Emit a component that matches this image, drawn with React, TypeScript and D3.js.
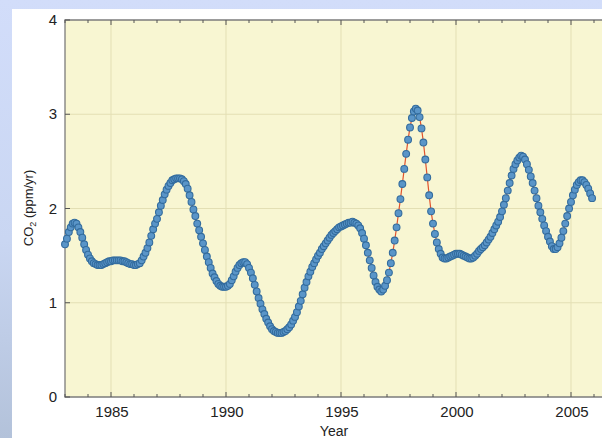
import React, { useEffect, useRef } from "react";
import * as d3 from "d3";

// monthly CO2 growth rate (ppm/yr), one row per year, starting Jan 1983
const startYear = 1983;
const growthRate: number[] = [
  1.62, 1.68, 1.75, 1.8, 1.84, 1.85, 1.84, 1.8, 1.75, 1.69, 1.62, 1.56, // 1983
  1.51, 1.47, 1.44, 1.42, 1.41, 1.4, 1.4, 1.4, 1.41, 1.42, 1.43, 1.44, // 1984
  1.44, 1.45, 1.45, 1.45, 1.45, 1.45, 1.44, 1.44, 1.43, 1.42, 1.41, 1.41, // 1985
  1.4, 1.4, 1.41, 1.42, 1.45, 1.49, 1.53, 1.58, 1.64, 1.71, 1.78, 1.84, // 1986
  1.89, 1.96, 2.03, 2.09, 2.15, 2.2, 2.24, 2.27, 2.3, 2.31, 2.32, 2.32, // 1987
  2.32, 2.31, 2.29, 2.26, 2.21, 2.14, 2.07, 1.99, 1.92, 1.84, 1.77, 1.7, // 1988
  1.63, 1.56, 1.49, 1.43, 1.37, 1.31, 1.27, 1.23, 1.2, 1.18, 1.17, 1.17, // 1989
  1.17, 1.18, 1.2, 1.24, 1.28, 1.33, 1.37, 1.4, 1.42, 1.43, 1.43, 1.41, // 1990
  1.37, 1.32, 1.26, 1.19, 1.12, 1.05, 0.99, 0.93, 0.88, 0.83, 0.79, 0.75, // 1991
  0.72, 0.7, 0.69, 0.68, 0.68, 0.68, 0.69, 0.7, 0.72, 0.74, 0.77, 0.81, // 1992
  0.85, 0.9, 0.96, 1.02, 1.09, 1.16, 1.22, 1.28, 1.33, 1.38, 1.42, 1.46, // 1993
  1.5, 1.53, 1.57, 1.6, 1.63, 1.66, 1.69, 1.72, 1.74, 1.76, 1.78, 1.8, // 1994
  1.81, 1.82, 1.83, 1.84, 1.85, 1.85, 1.86, 1.85, 1.84, 1.82, 1.79, 1.74, // 1995
  1.68, 1.61, 1.53, 1.45, 1.37, 1.29, 1.22, 1.17, 1.14, 1.12, 1.14, 1.18, // 1996
  1.24, 1.32, 1.42, 1.53, 1.66, 1.8, 1.95, 2.1, 2.26, 2.42, 2.58, 2.73, // 1997
  2.86, 2.96, 3.03, 3.06, 3.04, 2.97, 2.85, 2.7, 2.52, 2.33, 2.14, 1.97, // 1998
  1.84, 1.73, 1.64, 1.57, 1.52, 1.48, 1.47, 1.47, 1.48, 1.49, 1.5, 1.51, // 1999
  1.52, 1.52, 1.52, 1.51, 1.5, 1.49, 1.48, 1.47, 1.47, 1.48, 1.5, 1.52, // 2000
  1.55, 1.57, 1.59, 1.61, 1.64, 1.67, 1.7, 1.74, 1.78, 1.82, 1.86, 1.91, // 2001
  1.97, 2.04, 2.11, 2.19, 2.27, 2.35, 2.42, 2.47, 2.51, 2.54, 2.56, 2.55, // 2002
  2.52, 2.47, 2.41, 2.34, 2.27, 2.19, 2.11, 2.03, 1.96, 1.89, 1.82, 1.76, // 2003
  1.7, 1.65, 1.6, 1.57, 1.57, 1.59, 1.63, 1.69, 1.76, 1.84, 1.92, 2.0, // 2004
  2.07, 2.14, 2.2, 2.25, 2.28, 2.3, 2.3, 2.28, 2.25, 2.21, 2.16, 2.11, // 2005
];

const majorYears = [1985, 1990, 1995, 2000, 2005];
const minorYears = d3.range(1983, 2007);
const yTicks = [0, 1, 2, 3, 4];

const W = 602;
const H = 438;

const Chart = () => {
  const svgRef = useRef<SVGSVGElement>(null);

  useEffect(() => {
    const svg = d3.select(svgRef.current);
    svg.selectAll("*").remove();

    const left = 65;
    const top = 20;
    const bottom = 397;
    const right = 617;

    const x = d3.scaleLinear().domain([1983, 2007]).range([left, right]);
    const y = d3.scaleLinear().domain([0, 4]).range([bottom, top]);

    const defs = svg.append("defs");
    const grad = defs
      .append("linearGradient")
      .attr("id", "bg")
      .attr("x1", 0)
      .attr("y1", 0)
      .attr("x2", 0)
      .attr("y2", 1);
    grad.append("stop").attr("offset", "0%").attr("stop-color", "#d2ddfa");
    grad.append("stop").attr("offset", "55%").attr("stop-color", "#c9d6f2");
    grad.append("stop").attr("offset", "100%").attr("stop-color", "#b3c2da");

    // page background + white panel
    svg.append("rect").attr("width", W).attr("height", H).attr("fill", "url(#bg)");
    svg
      .append("rect")
      .attr("x", 12)
      .attr("y", 9)
      .attr("width", W - 12)
      .attr("height", H - 9)
      .attr("fill", "#ffffff");

    // plot area
    svg
      .append("rect")
      .attr("x", left)
      .attr("y", top)
      .attr("width", right - left)
      .attr("height", bottom - top)
      .attr("fill", "#f8f6d2");

    // grid
    svg
      .selectAll(".vgrid")
      .data(majorYears)
      .enter()
      .append("line")
      .attr("x1", (d) => x(d))
      .attr("x2", (d) => x(d))
      .attr("y1", top)
      .attr("y2", bottom)
      .attr("stroke", "#e3dfb4")
      .attr("stroke-width", 1);
    svg
      .selectAll(".hgrid")
      .data(yTicks.slice(1, -1))
      .enter()
      .append("line")
      .attr("x1", left)
      .attr("x2", right)
      .attr("y1", (d) => y(d))
      .attr("y2", (d) => y(d))
      .attr("stroke", "#e3dfb4")
      .attr("stroke-width", 1);

    // frame
    const frame = "#7c7c7c";
    svg
      .append("path")
      .attr("d", `M${right},${top}H${left}V${bottom}H${right}`)
      .attr("fill", "none")
      .attr("stroke", frame)
      .attr("stroke-width", 1.3);

    // x ticks (top and bottom, inward)
    minorYears.forEach((yr) => {
      const len = yr % 5 === 0 ? 5 : 3;
      svg
        .append("line")
        .attr("x1", x(yr))
        .attr("x2", x(yr))
        .attr("y1", bottom)
        .attr("y2", bottom - len)
        .attr("stroke", "#555")
        .attr("stroke-width", 1);
      svg
        .append("line")
        .attr("x1", x(yr))
        .attr("x2", x(yr))
        .attr("y1", top)
        .attr("y2", top + len)
        .attr("stroke", "#555")
        .attr("stroke-width", 1);
    });

    // y ticks
    svg
      .selectAll(".ytick")
      .data(yTicks)
      .enter()
      .append("line")
      .attr("x1", left)
      .attr("x2", left + 5)
      .attr("y1", (d) => y(d))
      .attr("y2", (d) => y(d))
      .attr("stroke", "#555")
      .attr("stroke-width", 1);

    const font = "Liberation Sans, Arial, sans-serif";

    svg
      .selectAll(".ylab")
      .data(yTicks)
      .enter()
      .append("text")
      .attr("x", 57)
      .attr("y", (d) => y(d) + 5)
      .attr("text-anchor", "end")
      .attr("font-family", font)
      .attr("font-size", 15)
      .attr("fill", "#222")
      .text((d) => d);

    svg
      .selectAll(".xlab")
      .data(majorYears)
      .enter()
      .append("text")
      .attr("x", (d) => x(d) + 1)
      .attr("y", 417)
      .attr("text-anchor", "middle")
      .attr("font-family", font)
      .attr("font-size", 15)
      .attr("fill", "#222")
      .text((d) => d);

    svg
      .append("text")
      .attr("x", 334)
      .attr("y", 436)
      .attr("text-anchor", "middle")
      .attr("font-family", font)
      .attr("font-size", 14)
      .attr("fill", "#222")
      .text("Year");

    const yTitle = svg
      .append("text")
      .attr("transform", "translate(33,208) rotate(-90)")
      .attr("text-anchor", "middle")
      .attr("font-family", font)
      .attr("font-size", 13)
      .attr("fill", "#222");
    yTitle.append("tspan").text("CO");
    yTitle.append("tspan").attr("dy", 3).attr("font-size", 9).text("2");
    yTitle.append("tspan").attr("dy", -3).text(" (ppm/yr)");

    // series
    const pts = growthRate.map((v, i) => ({ t: startYear + i / 12, v }));
    const line = d3
      .line<{ t: number; v: number }>()
      .x((d) => x(d.t))
      .y((d) => y(d.v));

    svg
      .append("path")
      .datum(pts)
      .attr("d", line)
      .attr("fill", "none")
      .attr("stroke", "#e0532e")
      .attr("stroke-width", 1.2);

    svg
      .selectAll(".dot")
      .data(pts)
      .enter()
      .append("circle")
      .attr("cx", (d) => x(d.t))
      .attr("cy", (d) => y(d.v))
      .attr("r", 3.4)
      .attr("fill", "#5a95c8")
      .attr("stroke", "#336c9e")
      .attr("stroke-width", 1.1);
  }, []);

  return <svg ref={svgRef} width={W} height={H} style={{ display: "block" }}></svg>;
};

export default function App() {
  return (
    <div style={{ position: "fixed", left: 0, top: 0 }}>
      <Chart />
    </div>
  );
}
